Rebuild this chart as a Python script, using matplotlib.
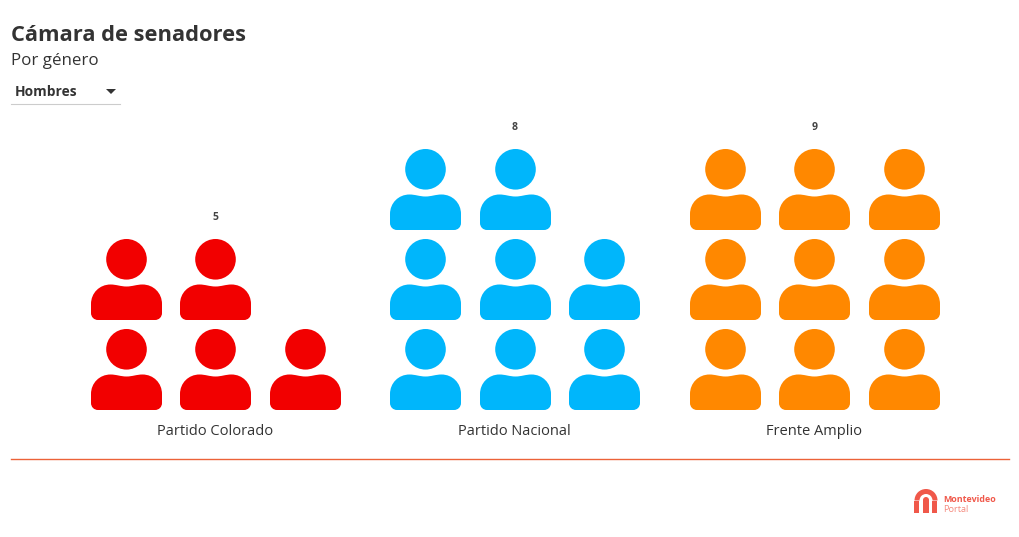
import matplotlib
matplotlib.use("Agg")
import matplotlib.pyplot as plt
from matplotlib.path import Path
from matplotlib.patches import Polygon, Wedge, Rectangle
from matplotlib.markers import MarkerStyle

categories = ["Partido Colorado", "Partido Nacional", "Frente Amplio"]
values = [5, 8, 9]
colors = ["#f20000", "#00b6fb", "#ff8800"]
PER_ROW = 3
TITLE = "Cámara de senadores"
SUBTITLE = "Por género"
SELECTED = "Hombres"
FONT = "Open Sans"
DARK = "#333333"
W, H = 1020, 537

plt.rcParams["font.family"] = [FONT, "DejaVu Sans"]


def person_path():
    k = 0.5523
    cy, r = 20.2, 20.3
    c = r * k
    v = [(0, cy + r),
         (c, cy + r), (r, cy + c), (r, cy),
         (r, cy - c), (c, cy - r), (0, cy - r),
         (-c, cy - r), (-r, cy - c), (-r, cy),
         (-r, cy + c), (-c, cy + r), (0, cy + r),
         (0, cy + r)]
    o = [Path.MOVETO] + [Path.CURVE4] * 12 + [Path.CLOSEPOLY]
    b = [(-28.5, -40.5),
         (-32.5, -40.5), (-35.5, -37.5), (-35.5, -33.5),
         (-35.5, -24.5),
         (-35.5, -13.5), (-27, -5), (-16, -5),
         (-10, -5), (-6, -7), (0, -7),
         (6, -7), (10, -5), (16, -5),
         (27, -5), (35.5, -13.5), (35.5, -24.5),
         (35.5, -33.5),
         (35.5, -37.5), (32.5, -40.5), (28.5, -40.5),
         (-28.5, -40.5)]
    bc = [Path.MOVETO] + [Path.CURVE4] * 3 + [Path.LINETO] + [Path.CURVE4] * 12 + \
         [Path.LINETO] + [Path.CURVE4] * 3 + [Path.LINETO]
    return Path(v + b, o + bc)


fig = plt.figure(figsize=(W / 100, H / 100), dpi=100, facecolor="white")

# pictogram axes: one x unit = one party, one y unit = one row of icons
L, R, T, B = 65.45, 963.95, 143.8, 413.8
ax = fig.add_axes([L / W, 1 - B / H, (R - L) / W, (B - T) / H])
ax.set_xlim(-0.5, 2.5)
ax.set_ylim(-0.5, 2.5)
ax.patch.set_alpha(0)
for s in ax.spines.values():
    s.set_visible(False)
ax.set_yticks([])
ax.set_xticks(range(len(categories)))
ax.set_xticklabels(categories, fontsize=10.5, color=DARK)
ax.tick_params(axis="x", length=0, pad=7)

marker = MarkerStyle(person_path())
size = (81 * 0.72) ** 2
col_step = 0.2985
for i, (val, col) in enumerate(zip(values, colors)):
    xs = [i + (n % PER_ROW - 1) * col_step for n in range(val)]
    ys = [n // PER_ROW for n in range(val)]
    pts = ax.scatter(xs, ys, s=size, marker=marker, c=col, linewidths=0, clip_on=False)
    pts.set_snap(False)
    ax.annotate(str(val), (i, max(ys)), xytext=(0, 44.1), textcoords="offset points",
                ha="center", va="center", fontsize=7.5, fontweight="bold", color="#444444")

# page furniture in pixel coordinates
ov = fig.add_axes([0, 0, 1, 1])
ov.set_xlim(0, W)
ov.set_ylim(H, 0)
ov.axis("off")
ov.patch.set_alpha(0)
ov.text(11, 41, TITLE, fontsize=15.75, fontweight="bold", color=DARK, va="baseline", ha="left")
ov.text(11, 65, SUBTITLE, fontsize=12.2, color=DARK, va="baseline", ha="left")
ov.text(15, 96.5, SELECTED, fontsize=9.9, fontweight="bold", color=DARK, va="baseline", ha="left")
ov.add_patch(Polygon([(106, 89), (116, 89), (111, 94)], closed=True, fc=DARK, ec="none"))
ov.plot([11, 120.5], [104, 104], color="#cccccc", lw=0.8)
ov.plot([11, 1009.5], [459, 459], color="#ec6238", lw=1.0)

# logo
logo = "#f0584a"
ov.add_patch(Wedge((926, 500.5), 11.5, 180, 360, width=5, fc=logo, ec="none"))
ov.add_patch(Rectangle((914.5, 500.5), 5, 12, fc=logo, ec="none"))
ov.add_patch(Rectangle((932.5, 500.5), 5, 12, fc=logo, ec="none"))
ov.add_patch(Wedge((926, 500), 3, 180, 360, fc=logo, ec="none"))
ov.add_patch(Rectangle((923, 500), 6, 12.5, fc=logo, ec="none"))
ov.text(943, 502, "Montevideo", fontsize=6.4, fontweight="bold", color=logo, va="baseline", ha="left")
ov.text(943, 511.5, "Portal", fontsize=6.6, color="#f58a7e", va="baseline", ha="left")

fig.savefig("out.png", dpi=100)
